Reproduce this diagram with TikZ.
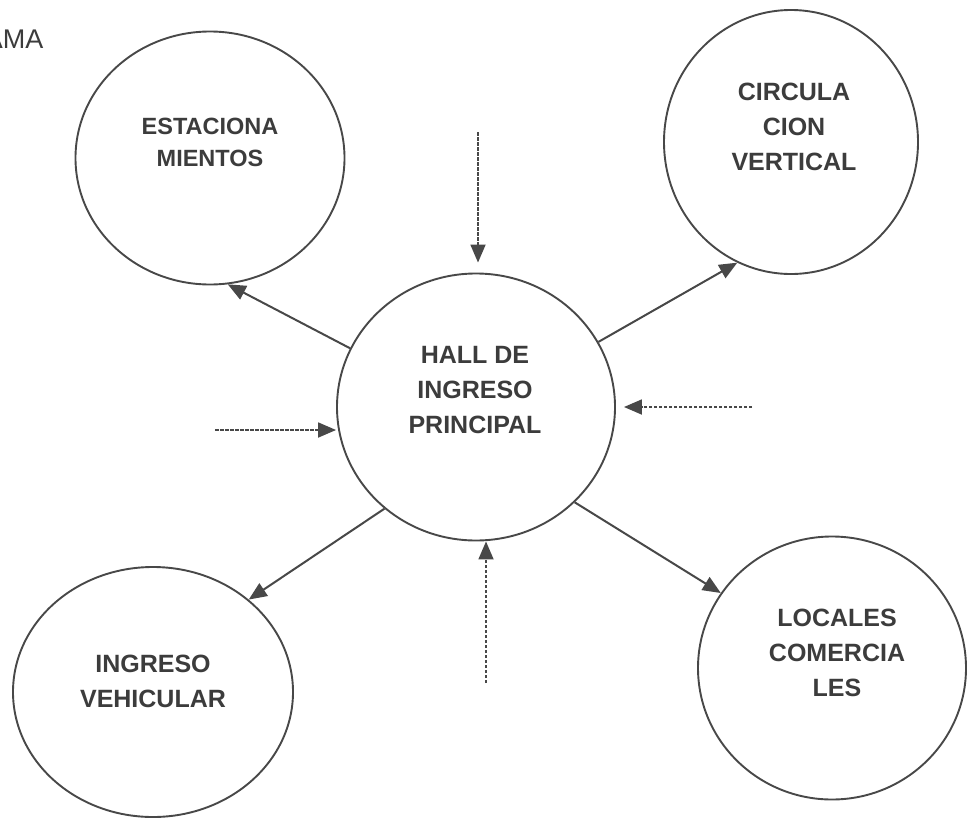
\documentclass[tikz,border=0pt]{standalone}
\usepackage{xcolor, fontspec}
\setmainfont{Liberation Sans}
\usetikzlibrary{shapes.geometric, arrows.meta}
\definecolor{ink}{HTML}{3C3C3C}
\definecolor{pen}{HTML}{484848}

\begin{document}
\begin{tikzpicture}
	[
	x=1pt, y=-1pt,
	zone/.style={ellipse, draw=pen, line width=1.9pt, inner sep=0pt},
	tag/.style={align=center, text=ink, font=\bfseries\fontsize{25}{35}\selectfont},
	link/.style={draw=pen, line width=2pt, -{Triangle[length=18pt, width=15pt]}},
	flow/.style={draw=pen, line width=1.8pt, dash pattern=on 3.5pt off 1.5pt, -{Triangle[length=18pt, width=15pt]}}]
	\useasboundingbox (0,0) rectangle (968,819);
	\node[text=ink, font=\fontsize{27}{32}\selectfont, anchor=base east] (title) at (47,48) {AMA};
	% zonas
	\node[zone, minimum width=278pt, minimum height=267pt] (hall) at (476,407) {};
	\node[zone, minimum width=269pt, minimum height=253pt] (park) at (210,158) {};
	\node[zone, minimum width=254pt, minimum height=264pt] (vert) at (791,142) {};
	\node[zone, minimum width=280pt, minimum height=250pt] (veh) at (153,692) {};
	\node[zone, minimum width=268pt, minimum height=263pt] (shop) at (832,668) {};
	\node[tag] (hall-txt) at (475,390) {HALL DE\\INGRESO\\PRINCIPAL};
	\node[tag, font=\bfseries\fontsize{23.5}{32}\selectfont] (park-txt) at (210,142) {ESTACIONA\\MIENTOS};
	\node[tag] (vert-txt) at (794,127) {CIRCULA\\CION\\VERTICAL};
	\node[tag] (veh-txt) at (153,681) {INGRESO\\VEHICULAR};
	\node[tag] (shop-txt) at (837,653) {LOCALES\\COMERCIA\\LES};
	% relaciones
	\draw[link] (hall.155) -- (park.278);
	\draw[link] (hall.28) -- (vert.246);
	\draw[link] (hall.228) -- (veh.44);
	\draw[link] (hall.316) -- (shop.146);
	% accesos
	\coordinate (in-top) at (478,132);
	\coordinate (in-left) at (215,430);
	\coordinate (in-right) at (752,407);
	\coordinate (in-bottom) at (486,683);
	\draw[flow, shorten >=10pt] (in-top) -- (in-top |- hall.north);
	\draw[flow] (in-left) -- (in-left -| hall.west);
	\draw[flow, shorten >=8pt] (in-right) -- (in-right -| hall.east);
	\draw[flow] (in-bottom) -- (in-bottom |- hall.south);
\end{tikzpicture}
\end{document}
